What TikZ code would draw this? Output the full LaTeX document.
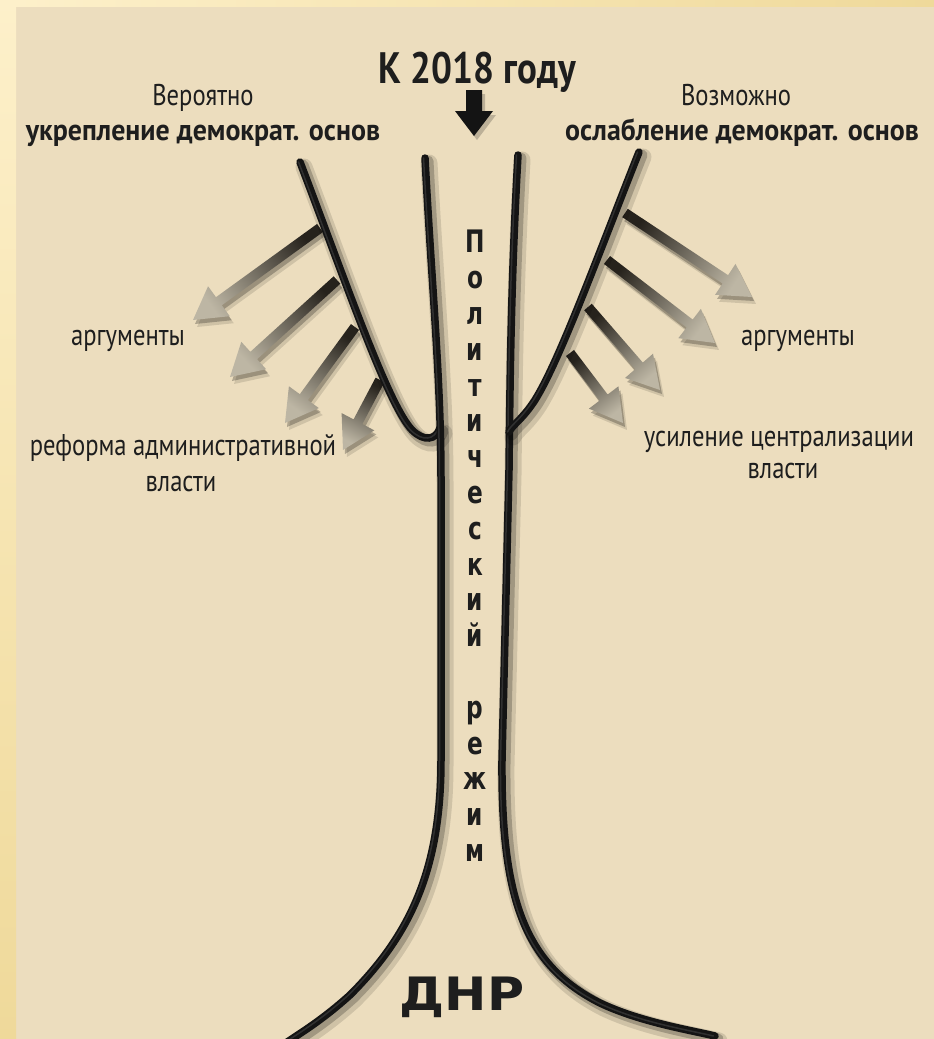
\documentclass[tikz,border=0pt]{standalone}
\usepackage{fontspec}
\setmainfont{PT Sans}[FakeStretch=0.82]
\newfontfamily\boldlbl{PT Sans Bold}[FakeStretch=0.93]
\newfontfamily\titlefont{PT Sans Bold}[FakeStretch=0.84]
\newfontfamily\vertfont{DejaVu Sans Bold}[FakeStretch=0.75]
\newfontfamily\dnrfont{DejaVu Sans Bold}[FakeStretch=1.1]
\usetikzlibrary{calc}
\definecolor{bg}{HTML}{ECDDBE}
\definecolor{striplight}{HTML}{FDF0CA}
\definecolor{stripdark}{HTML}{EFD99A}
\definecolor{txt}{HTML}{1E1E1E}
\definecolor{linecol}{HTML}{141414}
\definecolor{arrdark}{HTML}{26221C}
\definecolor{arrlight}{HTML}{BDB6A4}
\tikzset{
  lbl/.style={text=txt, inner sep=0pt, anchor=base, font=\fontsize{30}{33}\selectfont},
  lblb/.style={lbl, font=\boldlbl\fontsize{30}{33}\selectfont},
}
\newcommand\arrpoly[2]{($(#1)!5pt!90:(#2)$) -- ($(hb)!5pt!90:(#2)$) -- ($(hb)!18.5pt!90:(#2)$) -- (#2) -- ($(hb)!18.5pt!-90:(#2)$) -- ($(hb)!5pt!-90:(#2)$) -- ($(#1)!5pt!-90:(#2)$) -- cycle}
\newcommand\fatarrow[2]{%
  \path let \p1=($(#2)-(#1)$), \n1={atan2(\y1,\x1)} in \pgfextra{\pgfmathsetmacro\tmpang{\n1-90}\xdef\arrang{\tmpang}};
  \coordinate (hb) at ($(#2)!32pt!(#1)$);
  \begin{scope}[transform canvas={shift={(4pt,-7pt)}}]
    \fill[black,opacity=.12] \arrpoly{#1}{#2};
  \end{scope}
  \begin{scope}[transform canvas={shift={(2pt,-4pt)}}]
    \fill[black,opacity=.25] \arrpoly{#1}{#2};
  \end{scope}
  \shade[top color=arrlight, bottom color=arrdark, shading angle=\arrang] \arrpoly{#1}{#2};
}
\newcommand\treeline[1]{%
  \begin{scope}[transform canvas={shift={(4pt,-5pt)}}]
    \draw[black,opacity=.12,line width=17pt,line cap=round] #1;
  \end{scope}
  \begin{scope}[transform canvas={shift={(3pt,-3pt)}}]
    \draw[black,opacity=.22,line width=11pt,line cap=round] #1;
  \end{scope}
  \draw[linecol,line width=7.5pt,line cap=round] #1;
  \begin{scope}[transform canvas={shift={(-1.5pt,0pt)}}]
    \draw[white,opacity=.12,line width=1.5pt,line cap=round] #1;
  \end{scope}
}
\begin{document}
\begin{tikzpicture}[x=1pt,y=-1pt]
\useasboundingbox (0,0) rectangle (934,1039);
% background
\fill[bg] (0,0) rectangle (934,1039);
\shade[top color=striplight, bottom color=stripdark] (0,0) rectangle (16,1039);
\shade[left color=striplight, right color=stripdark] (16,0) rectangle (934,6);

% arrow coordinates
\coordinate (ls1) at (320,228); \coordinate (lt1) at (193,320);
\coordinate (ls2) at (337,280); \coordinate (lt2) at (230,377);
\coordinate (ls3) at (355,327); \coordinate (lt3) at (285,423);
\coordinate (ls4) at (380,380); \coordinate (lt4) at (343,450);
\coordinate (rs1) at (625,213); \coordinate (rt1) at (752,297);
\coordinate (rs2) at (607,260); \coordinate (rt2) at (715,343);
\coordinate (rs3) at (588,307); \coordinate (rt3) at (660,390);
\coordinate (rs4) at (570,353); \coordinate (rt4) at (623,423);

\fatarrow{ls1}{lt1}
\fatarrow{ls2}{lt2}
\fatarrow{ls3}{lt3}
\fatarrow{ls4}{lt4}
\fatarrow{rs1}{rt1}
\fatarrow{rs2}{rt2}
\fatarrow{rs3}{rt3}
\fatarrow{rs4}{rt4}

% tree lines
\treeline{(300,162) .. controls (345,280) and (388,405) .. (412,430) .. controls (424,442) and (436,440) .. (440,428)}
\treeline{(425,158) .. controls (432,290) and (441,380) .. (441,480) -- (441,760) .. controls (441,870) and (410,935) .. (350,995) .. controls (320,1022) and (300,1033) .. (283,1045)}
\treeline{(518,155) .. controls (511,280) and (510,380) .. (509,470) -- (502,760) .. controls (501,900) and (525,965) .. (600,1003) .. controls (640,1022) and (690,1030) .. (715,1036)}
\treeline{(639,152) .. controls (600,250) and (560,360) .. (535,400) .. controls (522,420) and (512,425) .. (509,432)}

% down arrow
\begin{scope}[transform canvas={shift={(3pt,-4pt)}}]
\fill[black,opacity=.2] (466,90) -- (482,90) -- (482,111) -- (493,111) -- (474,136) -- (455,111) -- (466,111) -- cycle;
\end{scope}
\fill[linecol] (466,90) -- (482,90) -- (482,111) -- (493,111) -- (474,136) -- (455,111) -- (466,111) -- cycle;

% texts
\node[lbl, font=\titlefont\fontsize{44}{48}\selectfont] (k2018) at (477,83) {К 2018 году};
\node[lbl] (ver) at (203,105) {Вероятно};
\node[lblb] (ukr) at (203,140) {укрепление демократ. основ};
\node[lbl] (voz) at (736,105) {Возможно};
\node[lblb] (osl) at (742,140) {ослабление демократ. основ};
\node[lbl] (argL) at (128,345) {аргументы};
\node[lbl] (refL) at (183,455) {реформа административной};
\node[lbl] (vlL) at (181,491) {власти};
\node[lbl] (argR) at (798,345) {аргументы};
\node[lbl] (usR) at (779,446) {усиление централизации};
\node[lbl] (vlR) at (783,478) {власти};
\node[text=txt, inner sep=0pt, anchor=north, align=center, font=\vertfont\fontsize{31}{35.8}\selectfont] (vert) at (475,230)
  {П\\о\\л\\и\\т\\и\\ч\\е\\с\\к\\и\\й\\~\\р\\е\\ж\\и\\м};
\node[text=txt, inner sep=0pt, anchor=base, font=\dnrfont\fontsize{46}{50}\selectfont] (dnr) at (462,1010) {ДНР};
\end{tikzpicture}
\end{document}
